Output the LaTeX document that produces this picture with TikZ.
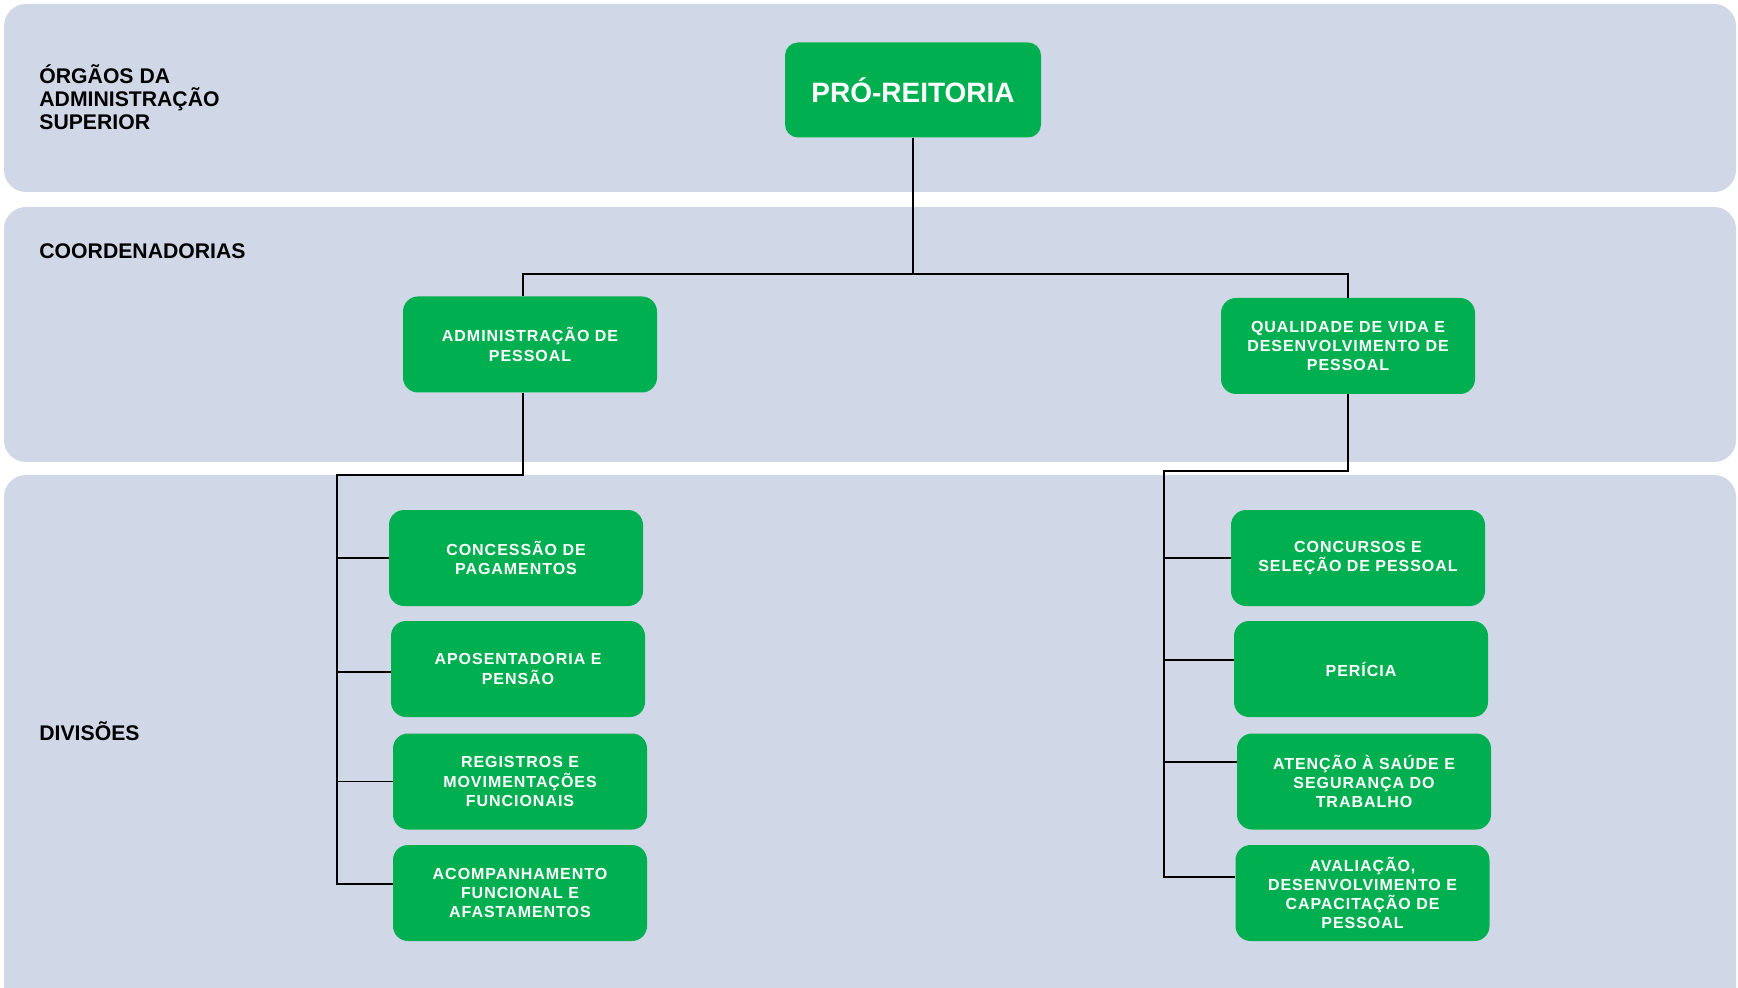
\documentclass[tikz,border=0pt]{standalone}
\usepackage{fontspec}
\setmainfont{Liberation Sans}
\newfontfamily\boxfont[LetterSpace=6]{Liberation Sans}
\definecolor{bandc}{HTML}{D0D8E7}
\definecolor{boxgreen}{HTML}{00B050}
\tikzset{
  band/.style={fill=bandc, rounded corners=11pt},
  unit/.style={fill=boxgreen, rounded corners=7.5pt, minimum width=127pt, minimum height=48pt,
    align=center, text=white, inner sep=2pt,
    font=\boxfont\bfseries\fontsize{8}{9.6}\selectfont},
  topunit/.style={fill=boxgreen, rounded corners=6.5pt, minimum width=128pt, minimum height=47.5pt,
    align=center, text=white, font=\bfseries\fontsize{14}{16}\selectfont},
  hdr/.style={anchor=west, align=left, inner sep=0pt, font=\bfseries\fontsize{10.6}{11.6}\selectfont},
  link/.style={draw=black, line width=0.9pt}
}
\begin{document}
\begin{tikzpicture}[x=0.5pt, y=-0.5pt]
\useasboundingbox (0,0) rectangle (1738,988);
\clip (0,0) rectangle (1738,988);
% bands
\fill[band] (4,4) rectangle (1736,192);
\fill[band] (4,207) rectangle (1736,462);
\fill[band] (4,475) rectangle (1736,1020);
% headers
\node[hdr] (h1) at (39,97) {ÓRGÃOS DA\\ADMINISTRAÇÃO\\SUPERIOR};
\node[hdr] (h2) at (39,251) {COORDENADORIAS};
\node[hdr] (h3) at (39,731) {DIVISÕES};
% nodes
\node[topunit] (pro) at (913,90) {PRÓ-REITORIA};
\node[unit] (adm) at (530,344.5) {ADMINISTRAÇÃO DE\\PESSOAL};
\node[unit] (qual) at (1348,346) {QUALIDADE DE VIDA E\\DESENVOLVIMENTO DE\\PESSOAL};
\node[unit] (d1) at (516,558) {CONCESSÃO DE\\PAGAMENTOS};
\node[unit] (d2) at (518,669) {APOSENTADORIA E\\PENSÃO};
\node[unit] (d3) at (520,781.5) {REGISTROS E\\MOVIMENTAÇÕES\\FUNCIONAIS};
\node[unit] (d4) at (520,893) {ACOMPANHAMENTO\\FUNCIONAL E\\AFASTAMENTOS};
\node[unit] (r1) at (1358,558) {CONCURSOS E\\SELEÇÃO DE PESSOAL};
\node[unit] (r2) at (1361,669) {PERÍCIA};
\node[unit] (r3) at (1364,781.5) {ATENÇÃO À SAÚDE E\\SEGURANÇA DO\\TRABALHO};
\node[unit] (r4) at (1362.5,893) {AVALIAÇÃO,\\DESENVOLVIMENTO E\\CAPACITAÇÃO DE\\PESSOAL};
% coordinates
\coordinate (hub) at (913,274);
\coordinate (ltop) at (337,475);
\coordinate (rtop) at (1164,471);
% connectors
\draw[link] (pro.south) -- (hub);
\draw[link] ([xshift=-3.5pt]adm.north) |- (hub) -| (qual.north);
\draw[link] ([xshift=-3.5pt]adm.south) |- (ltop) |- ([yshift=4.5pt]d4.west);
\draw[link] (ltop) |- (d1.west);
\draw[link] (ltop) |- ([yshift=-1.5pt]d2.west);
\draw[link] (ltop) |- (d3.west);
\draw[link] (qual.south) |- (rtop) |- ([yshift=8pt]r4.west);
\draw[link] (rtop) |- (r1.west);
\draw[link] (rtop) |- ([yshift=4.5pt]r2.west);
\draw[link] (rtop) |- ([yshift=9.75pt]r3.west);
\end{tikzpicture}
\end{document}
